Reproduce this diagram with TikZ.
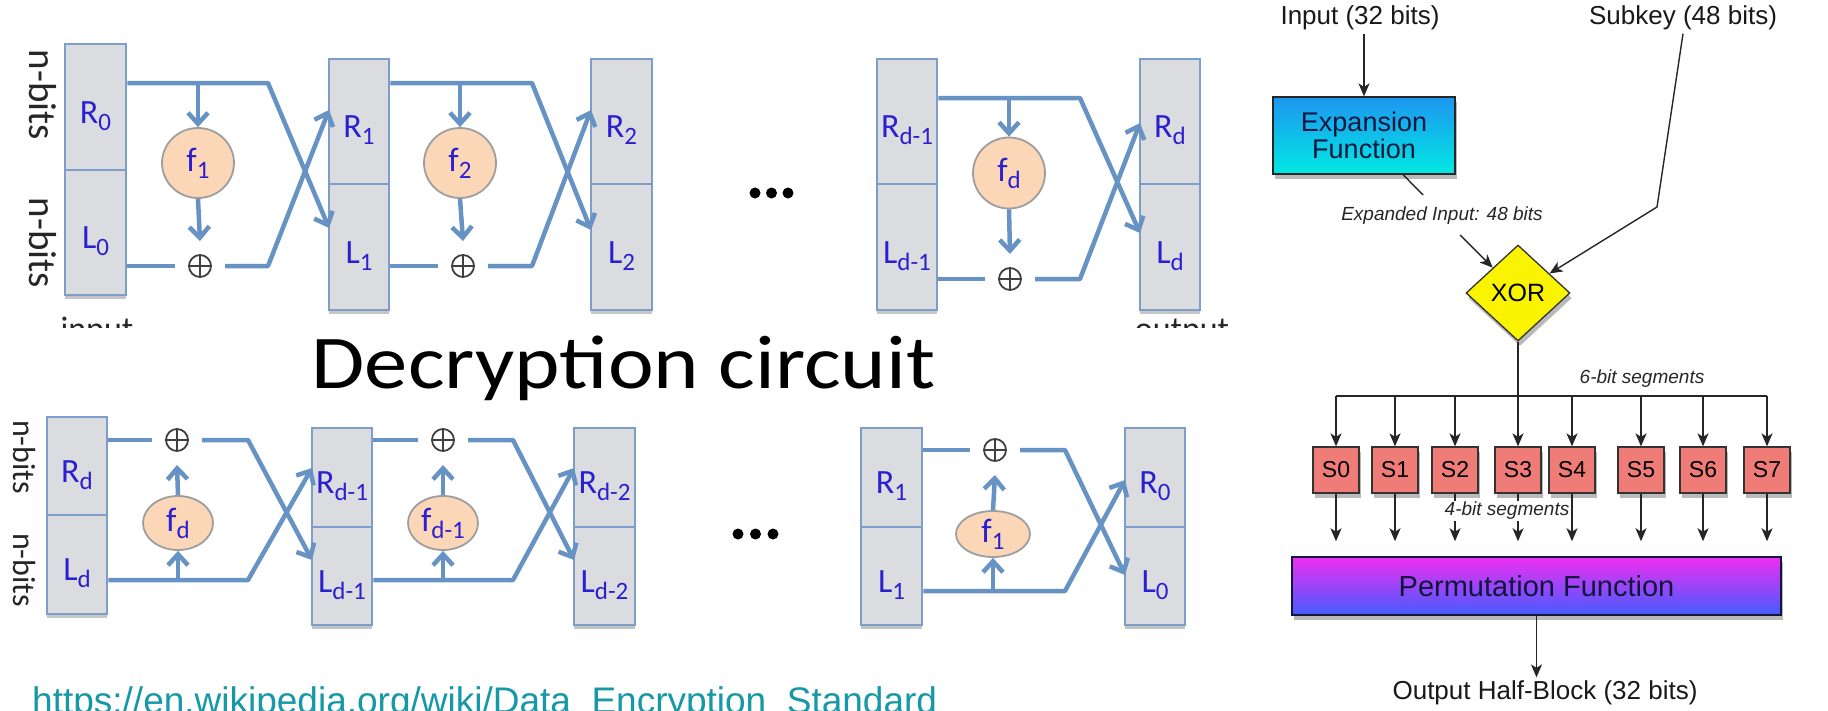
\documentclass[tikz,border=0pt]{standalone}
\usepackage{fontspec}
\setmainfont{Liberation Sans}
\newfontfamily\calfont{Carlito}
\usetikzlibrary{shapes.geometric,arrows.meta,shadows}
\definecolor{boxfill}{RGB}{219,220,224}
\definecolor{boxline}{RGB}{125,158,200}
\definecolor{flow}{RGB}{102,146,196}
\definecolor{peach}{RGB}{251,214,183}
\definecolor{lblue}{RGB}{42,32,208}
\definecolor{urlteal}{RGB}{22,152,166}
\definecolor{navy}{RGB}{16,22,62}
\definecolor{xory}{RGB}{250,244,0}
\definecolor{sred}{RGB}{240,124,120}
\newcommand{\fsz}[1]{\fontsize{#1}{#1}\selectfont}
\newcommand{\sbs}[1]{\raisebox{-7pt}{\fsz{25}#1}}
% name, xc, width, ytop, ymid, ybot, top label, bottom label
\newcommand{\feist}[8]{%
  \node[hbox, minimum width=#3, minimum height={#5-#4}] (#1t) at (#2,{(#4+#5)/2}) {};
  \node[hbox, bshadow, minimum width=#3, minimum height={#6-#5}] (#1b) at (#2,{(#5+#6)/2}) {};
  \node[lbl] (#1tl) at ([yshift=-9pt]#1t.center) {#7};
  \node[lbl] (#1bl) at ([yshift=-9pt]#1b.center) {#8};
}
\begin{document}
\begin{tikzpicture}[x=1pt,y=-1pt,
  hbox/.style={rectangle, draw=boxline, fill=boxfill, line width=2.5pt, inner sep=0pt},
  bshadow/.style={drop shadow={shadow xshift=0pt, shadow yshift=-4pt, fill=black!45, opacity=0.5}},
  lbl/.style={font=\calfont\fsz{34}, text=lblue, inner sep=0pt},
  fline/.style={draw=flow, line width=4.5pt, line join=round},
  farrow/.style={fline, -{Straight Barb[length=11pt,width=20pt]}},
  fnode/.style={ellipse, draw=black!38, fill=peach, line width=1.8pt, inner sep=0pt, font=\calfont\fsz{34}, text=lblue},
  oplus/.style={circle, draw=black!75, line width=1.8pt, minimum size=22pt, inner sep=0pt, outer sep=14pt,
    path picture={\draw[black!75, line width=1.5pt] (path picture bounding box.north) -- (path picture bounding box.south)
      (path picture bounding box.west) -- (path picture bounding box.east);}},
  dotn/.style={circle, fill=black, minimum size=11pt, inner sep=0pt},
  nb/.style={font=\calfont\fsz{#1}, text=black!85, rotate=-90, inner sep=0pt},
  rline/.style={draw=black!85, line width=1.4pt},
  rarr/.style={rline, -{Stealth[length=13pt,width=11pt,inset=3.5pt]}},
  rshadow/.style={drop shadow={shadow xshift=2pt, shadow yshift=-5pt, fill=black!60, opacity=0.45}},
  rtxt/.style={font=\fsz{26}, text=black!90},
  itl/.style={font=\itshape\fsz{19}, text=black!85},
  sbox/.style={rectangle, draw=black!80, line width=1.3pt, fill=sred, minimum width=46pt, minimum height=46pt, inner sep=0pt, font=\fsz{23}, rshadow},
]
\useasboundingbox (0,0) rectangle (1828,710);
\fill[white] (0,0) rectangle (1828,710);

% ================= Encryption row =================
\node[nb=39] (nbA1) at (43,95) {n-bits};
\node[nb=39] (nbA2) at (43,243) {n-bits};
\feist{A}{95.5}{61}{44}{170}{295}{R\sbs{0}}{L\sbs{0}}
\feist{B}{359}{60}{59}{184}{310}{R\sbs{1}}{L\sbs{1}}
\feist{C}{621.5}{61}{59}{184}{310}{R\sbs{2}}{L\sbs{2}}
\feist{D}{907}{60}{59}{184}{310}{R\sbs{d-1}}{L\sbs{d-1}}
\feist{E}{1170}{60}{59}{184}{310}{R\sbs{d}}{L\sbs{d}}

% round 1
\node[fnode, minimum width=72pt, minimum height=70pt] (f1) at (198,163) {f\sbs{1}};
\node[oplus] (x1) at (200,266) {};
\coordinate (t1) at (268,83);
\coordinate (b1) at (268,266);
\coordinate (e1d) at (329,228);
\coordinate (e1u) at (329,110);
\draw[farrow] (At.east |- t1) -- (t1) -- (e1d);
\draw[fline] (Ab.east |- x1) -- (x1.west);
\draw[farrow] (x1.east) -- (b1) -- (e1u);
\draw[farrow] (f1 |- t1) -- (f1.north);
\draw[farrow] (f1.south) -- (x1.north);

% round 2
\node[fnode, minimum width=72pt, minimum height=70pt] (f2) at (460,163) {f\sbs{2}};
\node[oplus] (x2) at (463,266) {};
\coordinate (t2) at (532,83);
\coordinate (b2) at (532,266);
\coordinate (e2d) at (591,230);
\coordinate (e2u) at (591,110);
\draw[farrow] (Bt.east |- t2) -- (t2) -- (e2d);
\draw[fline] (Bb.east |- x2) -- (x2.west);
\draw[farrow] (x2.east) -- (b2) -- (e2u);
\draw[farrow] (f2 |- t2) -- (f2.north);
\draw[farrow] (f2.south) -- (x2.north);

% round d
\node[fnode, minimum width=72pt, minimum height=71pt] (f3) at (1009,173) {f\sbs{d}};
\node[oplus] (x3) at (1010,279) {};
\coordinate (t3) at (1080,98);
\coordinate (b3) at (1080,279);
\coordinate (e3d) at (1140,233);
\coordinate (e3u) at (1140,123);
\draw[farrow] (Dt.east |- t3) -- (t3) -- (e3d);
\draw[fline] (Db.east |- x3) -- (x3.west);
\draw[farrow] (x3.east) -- (b3) -- (e3u);
\draw[farrow] (f3 |- t3) -- (f3.north);
\draw[farrow] (f3.south) -- (x3.north);

\node[dotn] (dA1) at (755,193) {};
\node[dotn] (dA2) at (771.5,193) {};
\node[dotn] (dA3) at (788,193) {};

\begin{scope}
\clip (0,0) rectangle (1828,327);
\node[font=\calfont\fsz{34}, text=black!85, anchor=base] (inlbl) at (97,340) {input};
\node[font=\calfont\fsz{34}, text=black!85, anchor=base] (outlbl) at (1182,340) {output};
\end{scope}

% ================= Title =================
\node[font=\calfont\fsz{76}, anchor=base, inner sep=0pt] (title) at (623.5,388) {\scalebox{1.14}[1]{Decryption circuit}};

% ================= Decryption row =================
\node[nb=32] (nbF1) at (24,457) {n-bits};
\node[nb=32] (nbF2) at (24,570) {n-bits};
\feist{F}{77}{60}{417}{515}{614}{R\sbs{d}}{L\sbs{d}}
\feist{G}{342}{60}{428}{527}{625}{R\sbs{d-1}}{L\sbs{d-1}}
\feist{H}{604.5}{61}{428}{527}{625}{R\sbs{d-2}}{L\sbs{d-2}}
\feist{I}{891.5}{61}{428}{527}{625}{R\sbs{1}}{L\sbs{1}}
\feist{J}{1155}{60}{428}{527}{625}{R\sbs{0}}{L\sbs{0}}

% round F->G
\node[fnode, minimum width=70pt, minimum height=54pt] (f4) at (178,523) {f\sbs{d}};
\node[oplus] (x4) at (177,440) {};
\coordinate (t4) at (248,440);
\coordinate (b4) at (248,580);
\coordinate (e4d) at (312,560);
\coordinate (e4u) at (312,468);
\draw[fline] (Ft.east |- x4) -- (x4.west);
\draw[farrow] (x4.east) -- (t4) -- (e4d);
\draw[farrow] (Fb.east |- b4) -- (b4) -- (e4u);
\draw[farrow] (f4 |- b4) -- (f4.south);
\draw[farrow] (f4.north) -- (x4.south);

% round G->H
\node[fnode, minimum width=70pt, minimum height=54pt] (f5) at (443,523) {f\sbs{d-1}};
\node[oplus] (x5) at (443,440) {};
\coordinate (t5) at (513,440);
\coordinate (b5) at (513,580);
\coordinate (e5d) at (574,560);
\coordinate (e5u) at (574,468);
\draw[fline] (Gt.east |- x5) -- (x5.west);
\draw[farrow] (x5.east) -- (t5) -- (e5d);
\draw[farrow] (Gb.east |- b5) -- (b5) -- (e5u);
\draw[farrow] (f5 |- b5) -- (f5.south);
\draw[farrow] (f5.north) -- (x5.south);

% round I->J
\node[fnode, minimum width=74pt, minimum height=46pt] (f6) at (993,534) {f\sbs{1}};
\node[oplus] (x6) at (995,450) {};
\coordinate (t6) at (1065,450);
\coordinate (b6) at (1065,591);
\coordinate (e6d) at (1125,575);
\coordinate (e6u) at (1125,480);
\draw[fline] (It.east |- x6) -- (x6.west);
\draw[farrow] (x6.east) -- (t6) -- (e6d);
\draw[farrow] (Ib.east |- b6) -- (b6) -- (e6u);
\draw[farrow] (f6 |- b6) -- (f6.south);
\draw[farrow] (f6.north) -- (x6.south);

\node[dotn] (dB1) at (738,534) {};
\node[dotn] (dB2) at (755.5,534) {};
\node[dotn] (dB3) at (773,534) {};

% ================= URL =================
\node[font=\fsz{37}, text=urlteal, anchor=base west, inner sep=0pt] (url) at (32,713) {https://en.wikipedia.org/wiki/Data\_Encryption\_Standard};

% ================= DES f-function =================
\node[rtxt] (inp) at (1360,18) {Input (32 bits)};
\node[rtxt] (subk) at (1683,18) {Subkey (48 bits)};
\node[rectangle, draw=black!85, line width=1.3pt, top color={rgb,255:red,30;green,150;blue,240}, bottom color={rgb,255:red,0;green,232;blue,226},
      minimum width=182pt, minimum height=77pt, align=center, font=\fsz{27}, text=navy, rshadow] (exp) at (1364,135.5)
      {\baselineskip=36pt Expansion\\Function};
\draw[rarr] (inp.south -| exp.north) -- (exp.north);
\node[itl] (expl) at (1442,216) {Expanded Input: 48 bits};
\coordinate (c1) at (1423,195);
\draw[rline] ([xshift=39pt]exp.south) -- (c1);
\node[diamond, draw=black!80, line width=1.3pt, fill=xory, minimum width=104pt, minimum height=96pt, inner sep=0pt, font=\fsz{25}, rshadow] (xor) at (1518,293) {XOR};
\coordinate (c2) at (1460,235);
\draw[rarr] (c2) -- (xor);
\coordinate (c3) at (1657,207);
\draw[rarr] (subk.south) -- (c3) -- (xor);

\node[sbox] (s0) at (1336,470) {S0};
\node[sbox] (s1) at (1395,470) {S1};
\node[sbox] (s2) at (1455,470) {S2};
\node[sbox] (s3) at (1518,470) {S3};
\node[sbox] (s4) at (1572,470) {S4};
\node[sbox] (s5) at (1641,470) {S5};
\node[sbox] (s6) at (1703,470) {S6};
\node[sbox] (s7) at (1767,470) {S7};
\coordinate (bus) at (1500,396);
\draw[rline] (s0.north |- bus) -- (s7.north |- bus);
\draw[rarr] (xor.south) -- (s3.north);
\foreach \s in {s0,s1,s2,s4,s5,s6,s7} \draw[rarr] (\s.north |- bus) -- (\s.north);
\node[itl] (seg6) at (1642,379) {6-bit segments};

\node[rectangle, draw=navy, line width=1.5pt, top color={rgb,255:red,240;green,46;blue,240}, bottom color={rgb,255:red,68;green,92;blue,255},
      minimum width=489pt, minimum height=58pt, font=\fsz{29}, text=navy, rshadow] (perm) at (1536.5,586) {Permutation Function};
\foreach \s in {s0,s1,s2,s3,s4,s5,s6,s7} \draw[rarr, shorten >=15pt] (\s.south) -- (\s.south |- perm.north);
\node[itl, fill=white, inner sep=1pt] (seg4) at (1507,511) {4-bit segments};

\node[rtxt] (outt) at (1545,693) {Output Half-Block (32 bits)};
\draw[rarr] (perm.south) -- (perm.south |- outt.north);
\end{tikzpicture}
\end{document}
